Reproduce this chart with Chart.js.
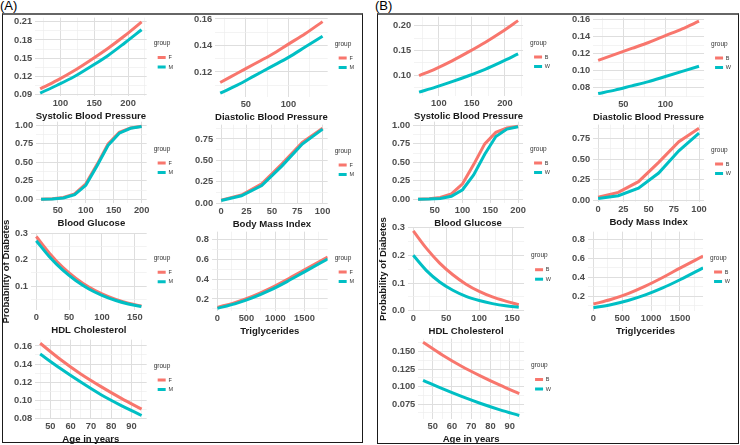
<!DOCTYPE html>
<html>
<head>
<meta charset="utf-8">
<script src="https://cdn.jsdelivr.net/npm/chart.js@4.4.1/dist/chart.umd.min.js"></script>
<style>
  body { margin: 0; width: 740px; height: 445px; background: #fff; position: relative; overflow: hidden;
         font-family: 'Liberation Sans', Arial, sans-serif; }
  .panel { position: absolute; box-sizing: border-box; border: 1px solid #1a1a1a; border-top: 2px solid #666; }
  .tag { position: absolute; font-size: 13px; color: #000; }
  canvas { position: absolute; }
</style>
</head>
<body>
<div class="tag" style="left:0px;top:-2px">(A)</div>
<div class="tag" style="left:375px;top:-2px">(B)</div>
<div class="panel" style="left:2px;top:13px;width:361px;height:430px"></div>
<div class="panel" style="left:377px;top:13px;width:362px;height:431px"></div>
<script>
// groups
const groupsA = ['F', 'M'];
const groupsB = ['B', 'W'];

// Systolic Blood Pressure
const sbpX = [70, 95, 120, 145, 170, 195, 220];
const sbpF = [0.099, 0.113, 0.129, 0.147, 0.166, 0.187, 0.210];
const sbpM = [0.092, 0.105, 0.119, 0.136, 0.154, 0.175, 0.197];
const sbpB = [0.099, 0.113, 0.129, 0.147, 0.166, 0.187, 0.210];
const sbpW = [0.066, 0.076, 0.087, 0.099, 0.112, 0.127, 0.143];
const sbpXTicks = ['100', '150', '200'];
const sbpYTicksA = ['0.09', '0.12', '0.15', '0.18', '0.21'];
const sbpYTicksB = ['0.10', '0.15', '0.20'];

// Diastolic Blood Pressure
const dbpX = [20, 40, 60, 80, 100, 120, 140];
const dbpF = [0.112, 0.119, 0.126, 0.133, 0.141, 0.149, 0.158];
const dbpM = [0.104, 0.110, 0.117, 0.124, 0.131, 0.139, 0.147];
const dbpB = [0.112, 0.119, 0.126, 0.133, 0.141, 0.149, 0.158];
const dbpW = [0.073, 0.077, 0.082, 0.087, 0.093, 0.099, 0.105];
const dbpXTicks = ['50', '100'];
const dbpYTicksA = ['0.12', '0.14', '0.16'];
const dbpYTicksB = ['0.08', '0.10', '0.12', '0.14', '0.16'];

// Blood Glucose
const gluX = [20, 40, 60, 80, 100, 120, 140, 160, 180, 200];
const gluF = [0.003, 0.010, 0.025, 0.075, 0.21, 0.47, 0.75, 0.905, 0.965, 0.988];
const gluM = [0.002, 0.007, 0.020, 0.065, 0.19, 0.45, 0.73, 0.895, 0.960, 0.985];
const gluB = [0.003, 0.010, 0.025, 0.075, 0.21, 0.47, 0.75, 0.905, 0.965, 0.988];
const gluW = [0.001, 0.004, 0.013, 0.042, 0.13, 0.33, 0.61, 0.850, 0.950, 0.982];
const gluXTicks = ['50', '100', '150', '200'];
const gluYTicks = ['0.00', '0.25', '0.50', '0.75', '1.00'];

// Body Mass Index
const bmiX = [0, 20, 40, 60, 80, 100];
const bmiF = [0.035, 0.095, 0.225, 0.46, 0.71, 0.875];
const bmiM = [0.030, 0.085, 0.205, 0.435, 0.69, 0.865];
const bmiB = [0.035, 0.095, 0.225, 0.46, 0.71, 0.875];
const bmiW = [0.020, 0.055, 0.145, 0.33, 0.60, 0.815];
const bmiXTicks = ['0', '25', '50', '75', '100'];
const bmiYTicks = ['0.00', '0.25', '0.50', '0.75'];

// HDL Cholesterol
const hdlX = [0, 20, 40, 60, 80, 100, 120, 140, 160];
const hdlF = [0.288, 0.225, 0.172, 0.130, 0.096, 0.070, 0.050, 0.035, 0.024];
const hdlM = [0.272, 0.211, 0.161, 0.121, 0.089, 0.065, 0.046, 0.032, 0.022];
const hdlB = [0.288, 0.225, 0.172, 0.130, 0.096, 0.070, 0.050, 0.035, 0.022];
const hdlW = [0.200, 0.145, 0.104, 0.074, 0.052, 0.037, 0.026, 0.018, 0.013];
const hdlXTicks = ['0', '50', '100', '150'];
const hdlYTicksA = ['0.1', '0.2', '0.3'];
const hdlYTicksB = ['0.0', '0.1', '0.2', '0.3'];

// Triglycerides
const triX = [0, 300, 600, 900, 1200, 1500, 1900];
const triF = [0.115, 0.163, 0.226, 0.305, 0.397, 0.496, 0.625];
const triM = [0.105, 0.150, 0.210, 0.286, 0.376, 0.474, 0.605];
const triB = [0.115, 0.163, 0.226, 0.305, 0.397, 0.496, 0.625];
const triW = [0.075, 0.108, 0.153, 0.212, 0.286, 0.373, 0.500];
const triXTicks = ['0', '500', '1000', '1500'];
const triYTicks = ['0.2', '0.4', '0.6', '0.8'];

// Age in years
const ageX = [45, 55, 65, 75, 85, 95];
const ageF = [0.163, 0.145, 0.129, 0.115, 0.102, 0.090];
const ageM = [0.151, 0.135, 0.120, 0.106, 0.094, 0.083];
const ageB = [0.163, 0.145, 0.129, 0.115, 0.102, 0.090];
const ageW = [0.109, 0.097, 0.086, 0.076, 0.067, 0.059];
const ageXTicks = ['50', '60', '70', '80', '90'];
const ageYTicksA = ['0.08', '0.10', '0.12', '0.14', '0.16'];
const ageYTicksB = ['0.075', '0.100', '0.125', '0.150'];

const FONT = "'Liberation Sans', Arial, sans-serif";
const COLORS = ['#F8766D', '#00BFC4'];

// one entry per small plot
const plots = [
  { name: 'Systolic Blood Pressure', x: sbpX, ys: [sbpF, sbpM], groups: groupsA, xt: sbpXTicks, yt: sbpYTicksA, xr: [62.5, 227.5], yr: [0.087, 0.217], smooth: true },
  { name: 'Diastolic Blood Pressure', x: dbpX, ys: [dbpF, dbpM], groups: groupsA, xt: dbpXTicks, yt: dbpYTicksA, xr: [14, 146], yr: [0.101, 0.161], smooth: true },
  { name: 'Blood Glucose', x: gluX, ys: [gluF, gluM], groups: groupsA, xt: gluXTicks, yt: gluYTicks, xr: [11, 209], yr: [-0.05, 1.05] },
  { name: 'Body Mass Index', x: bmiX, ys: [bmiF, bmiM], groups: groupsA, xt: bmiXTicks, yt: bmiYTicks, xr: [-5, 105], yr: [-0.012, 0.917] },
  { name: 'HDL Cholesterol', x: hdlX, ys: [hdlF, hdlM], groups: groupsA, xt: hdlXTicks, yt: hdlYTicksA, xr: [-8, 168], yr: [0.0087, 0.3013], smooth: true, ylab: true },
  { name: 'Triglycerides', x: triX, ys: [triF, triM], groups: groupsA, xt: triXTicks, yt: triYTicks, xr: [-95, 1900], yr: [0.077, 0.882], smooth: true },
  { name: 'Age in years', x: ageX, ys: [ageF, ageM], groups: groupsA, xt: ageXTicks, yt: ageYTicksA, xr: [42.5, 97.5], yr: [0.079, 0.167], smooth: true },

  { name: 'Systolic Blood Pressure', x: sbpX, ys: [sbpB, sbpW], groups: groupsB, xt: sbpXTicks, yt: sbpYTicksB, xr: [62.5, 227.5], yr: [0.058, 0.218], smooth: true },
  { name: 'Diastolic Blood Pressure', x: dbpX, ys: [dbpB, dbpW], groups: groupsB, xt: dbpXTicks, yt: dbpYTicksB, xr: [14, 146], yr: [0.0688, 0.1622], smooth: true },
  { name: 'Blood Glucose', x: gluX, ys: [gluB, gluW], groups: groupsB, xt: gluXTicks, yt: gluYTicks, xr: [11, 209], yr: [-0.05, 1.05] },
  { name: 'Body Mass Index', x: bmiX, ys: [bmiB, bmiW], groups: groupsB, xt: bmiXTicks, yt: bmiYTicks, xr: [-5, 105], yr: [-0.023, 0.918] },
  { name: 'HDL Cholesterol', x: hdlX, ys: [hdlB, hdlW], groups: groupsB, xt: hdlXTicks, yt: hdlYTicksB, xr: [-8, 168], yr: [-0.001, 0.302], smooth: true, ylab: true },
  { name: 'Triglycerides', x: triX, ys: [triB, triW], groups: groupsB, xt: triXTicks, yt: triYTicks, xr: [-95, 1900], yr: [0.040, 0.884], smooth: true },
  { name: 'Age in years', x: ageX, ys: [ageB, ageW], groups: groupsB, xt: ageXTicks, yt: ageYTicksB, xr: [42.5, 97.5], yr: [0.0538, 0.1682], smooth: true }
];

// plot areas on the page: left, top, width, height
const boxes = [
  [35, 18, 112, 78], [215, 18, 113, 79], [36, 122, 111, 81], [216, 125, 112, 79],
  [31, 233, 116, 77], [212, 232, 116, 79], [35, 340, 112, 79],
  [414, 17, 109, 79], [593, 18, 111, 79], [413, 122, 110, 81], [593, 125, 111, 77],
  [408, 227, 116, 84], [588, 232, 115, 79], [418, 339, 106, 80]
];

function labelOf(labels, v) {
  const l = labels.find(s => Math.abs(Number(s) - v) < 1e-9);
  return l === undefined ? null : l;
}

// major ticks from the labels, minor ones half way between (ggplot style)
function tickValues(labels, min, max) {
  const first = Number(labels[0]);
  const half = (Number(labels[1]) - first) / 2;
  let k = 0;
  while (first + (k - 1) * half >= min - 1e-9) k--;
  const out = [];
  for (; first + k * half <= max + 1e-9; k++) out.push(+(first + k * half).toFixed(6));
  return out;
}

function axis(labels, range, extra) {
  const vals = tickValues(labels, range[0], range[1]);
  return Object.assign({
    type: 'linear',
    min: range[0],
    max: range[1],
    border: { display: false },
    grid: {
      drawTicks: false,
      color: c => (c.tick && labelOf(labels, c.tick.value) !== null) ? '#dedede' : '#eeeeee',
      lineWidth: c => (c.tick && labelOf(labels, c.tick.value) !== null) ? 1 : 0.7
    },
    afterBuildTicks: s => { s.ticks = vals.map(v => ({ value: v })); },
    ticks: {
      autoSkip: false, maxRotation: 0, padding: 3, color: '#4d4d4d',
      font: { family: FONT, size: 9.3, weight: 'bold', lineHeight: 1 },
      callback: v => { const l = labelOf(labels, v); return l === null ? '' : l; }
    }
  }, extra || {});
}

// pushes the legend a little away from the plot
const legendGap = {
  id: 'legendGap',
  afterLayout(chart) {
    if (chart.legend) { chart.legend.left += 7; chart.legend.right += 7; }
  }
};

function makeConfig(p) {
  const yExtra = p.ylab ? {
    title: { display: true, text: 'Probability of Diabetes', color: '#1a1a1a', padding: 0,
             font: { family: FONT, size: 9.6, weight: 'bold', lineHeight: 1.2 } },
    afterFit: s => { s.width = 30; }
  } : {};
  return {
    type: 'line',
    data: {
      datasets: p.ys.map((ys, i) => ({
        label: p.groups[i],
        data: p.x.map((x, j) => ({ x: x, y: ys[j] })),
        borderColor: COLORS[i],
        backgroundColor: COLORS[i],
        borderWidth: 3,
        pointRadius: 0,
        fill: false,
        tension: 0,
        cubicInterpolationMode: p.smooth ? 'monotone' : 'default',
        order: 1 - i
      }))
    },
    options: {
      responsive: false,
      animation: false,
      events: [],
      layout: { padding: { top: p.ylab ? 16 : 2, right: 8, left: 2, bottom: 2 } },
      scales: {
        x: axis(p.xt, p.xr, {
          title: { display: true, text: p.name, color: '#1a1a1a', padding: { top: 0, bottom: 1 },
                   font: { family: FONT, size: 9.6, weight: 'bold', lineHeight: 1 } }
        }),
        y: axis(p.yt, p.yr, yExtra)
      },
      plugins: {
        tooltip: { enabled: false },
        legend: {
          position: 'right',
          fullSize: false,
          align: 'center',
          title: { display: true, text: 'group', position: 'start', color: '#333',
                   font: { family: FONT, size: 6.5, lineHeight: 1.2 }, padding: { top: 0, bottom: 3 } },
          labels: {
            boxWidth: 8, boxHeight: 3, padding: 4, color: '#333',
            font: { family: FONT, size: 5.5 },
            generateLabels: ch => Chart.defaults.plugins.legend.labels.generateLabels(ch)
              .map(l => Object.assign(l, { lineWidth: 0 })),
            sort: (a, b) => a.datasetIndex - b.datasetIndex
          }
        }
      }
    },
    plugins: [legendGap]
  };
}

// draw once to learn how much room axes and legend take, then size the canvas so the plot area lands on its box
function build(p, box) {
  const c = document.createElement('canvas');
  c.width = 300; c.height = 200;
  document.body.appendChild(c);
  const probe = new Chart(c, makeConfig(p));
  const a = probe.chartArea;
  const extraW = 300 - (a.right - a.left);
  const extraH = 200 - (a.bottom - a.top);
  const offL = a.left, offT = a.top;
  probe.destroy();
  c.width = Math.round(box[2] + extraW);
  c.height = Math.round(box[3] + extraH);
  c.style.left = Math.round(box[0] - offL) + 'px';
  c.style.top = Math.round(box[1] - offT) + 'px';
  new Chart(c, makeConfig(p));
}

plots.forEach((p, i) => build(p, boxes[i]));
</script>
</body>
</html>
